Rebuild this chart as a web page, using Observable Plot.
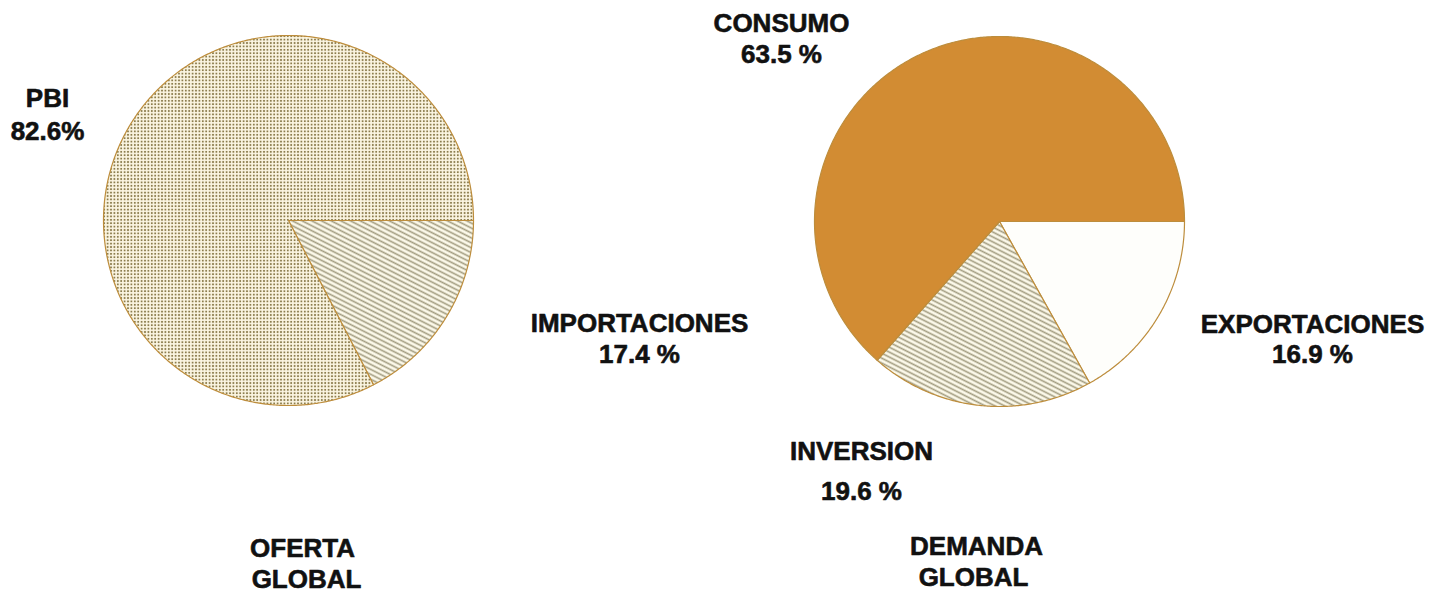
<!DOCTYPE html>
<html><head><meta charset="utf-8">
<script src="https://cdn.jsdelivr.net/npm/d3@7"></script>
<script src="https://cdn.jsdelivr.net/npm/@observablehq/plot@0.6"></script>
<style>html,body{margin:0;padding:0;background:#fff;} #chart svg{display:block;}</style>
</head><body><div id="chart"></div>
<script>
// ---- data ----
const ofertaCategories = ["IMPORTACIONES", "PBI"];
const ofertaValues = [17.4, 82.6];
const ofertaValueLabels = ["17.4 %", "82.6%"];
const demandaCategories = ["EXPORTACIONES", "INVERSION", "CONSUMO"];
const demandaValues = [16.9, 19.6, 63.5];
const demandaValueLabels = ["16.9 %", "19.6 %", "63.5 %"];
const pieTitles = [["OFERTA", "GLOBAL"], ["DEMANDA", "GLOBAL"]];

// ---- layout & style ----
const W = 1431, H = 592;
const pieLayout = [
  {cx: 288, cy: 220, r: 185, fills: ["url(#hatch)", "url(#dots)"]},
  {cx: 999, cy: 221, r: 185, fills: ["#fefefb", "url(#hatch)", "#d28c33"]}
];
const labelLayout = {
  "PBI": {x: 47, y1: 106, y2: 139},
  "IMPORTACIONES": {x: 639, y1: 331, y2: 362},
  "CONSUMO": {x: 781, y1: 31, y2: 62},
  "EXPORTACIONES": {x: 1312, y1: 332, y2: 362},
  "INVERSION": {x: 861, y1: 459, y2: 499}
};
const titleLayout = [
  [{x: 302, y: 556}, {x: 306, y: 587}],
  [{x: 976, y: 554}, {x: 973, y: 585}]
];

const pieData = [
  {cats: ofertaCategories, vals: ofertaValues, valueLabels: ofertaValueLabels},
  {cats: demandaCategories, vals: demandaValues, valueLabels: demandaValueLabels}
];

// build slice outlines (in the chart's x/y data space) from the values
const sliceMarks = [];
const textRows = [];
pieData.forEach((p, pi) => {
  const L = pieLayout[pi];
  const arcs = d3.pie().sort(null).startAngle(Math.PI / 2).endAngle(Math.PI / 2 + 2 * Math.PI)(p.vals);
  arcs.forEach((a, i) => {
    const pts = [{x: L.cx, y: L.cy}];
    const n = Math.max(2, Math.ceil((a.endAngle - a.startAngle) / (Math.PI / 360)));
    for (let k = 0; k <= n; k++) {
      const t = a.startAngle + (a.endAngle - a.startAngle) * k / n;
      pts.push({x: L.cx + L.r * Math.sin(t), y: L.cy - L.r * Math.cos(t)});
    }
    pts.push({x: L.cx, y: L.cy});
    sliceMarks.push(Plot.line(pts, {
      x: "x", y: "y", fill: L.fills[i], stroke: "#bd8d3c", strokeWidth: 1.2, strokeLinejoin: "round"
    }));
    const lp = labelLayout[p.cats[i]];
    textRows.push({x: lp.x, y: lp.y1, text: p.cats[i]});
    textRows.push({x: lp.x, y: lp.y2, text: p.valueLabels[i]});
  });
  pieTitles[pi].forEach((t, j) => {
    textRows.push({x: titleLayout[pi][j].x, y: titleLayout[pi][j].y, text: t});
  });
});

const chart = Plot.plot({
  width: W, height: H, margin: 0,
  x: {domain: [0, W], range: [0, W], axis: null},
  y: {domain: [0, H], range: [0, H], axis: null},
  style: {background: "#ffffff"},
  marks: [
    ...sliceMarks,
    Plot.text(textRows, {
      x: "x", y: "y", text: "text", lineAnchor: "bottom", textAnchor: "middle",
      fontSize: 26, fontWeight: "bold", fontFamily: "'Liberation Sans', Arial, sans-serif",
      fill: "#111111", stroke: "#111111", strokeWidth: 0.6
    })
  ]
});

// patterns
const svg = d3.select(chart);
const defs = svg.insert("defs", ":first-child");
const dots = defs.append("pattern").attr("id", "dots").attr("patternUnits", "userSpaceOnUse")
  .attr("width", 3.4).attr("height", 3.4);
dots.append("rect").attr("width", 3.4).attr("height", 3.4).attr("fill", "#fbf5e2");
dots.append("rect").attr("x", 0.8).attr("y", 0.8).attr("width", 1.8).attr("height", 1.8).attr("fill", "#8c7d4e");
const hatch = defs.append("pattern").attr("id", "hatch").attr("patternUnits", "userSpaceOnUse")
  .attr("width", 8).attr("height", 4.4).attr("patternTransform", "rotate(27)");
hatch.append("rect").attr("width", 8).attr("height", 4.4).attr("fill", "#fcf9ea");
hatch.append("line").attr("x1", 0).attr("x2", 8).attr("y1", 2.2).attr("y2", 2.2)
  .attr("stroke", "#a29c80").attr("stroke-width", 1.6);

document.getElementById("chart").append(chart);
</script>
</body></html>
